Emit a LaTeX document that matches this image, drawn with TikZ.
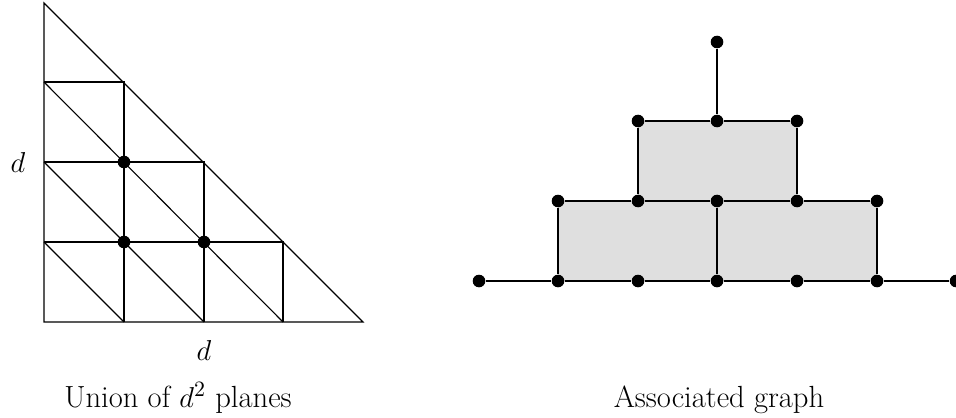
\documentclass[tikz,border=0pt]{standalone}
\begin{document}
\begin{tikzpicture}[x=0.5pt,y=-0.5pt,
  ln/.style={line width=0.55pt},
  dot/.style={circle,fill=black,inner sep=0pt,minimum size=6.3pt},
  lbl/.style={inner sep=0pt,font=\fontsize{15.3}{18}\selectfont}]
\useasboundingbox (0,0) rectangle (956,417);
% ---- left: triangle
\draw[ln] (44,3) -- (44,322) -- (363,322) -- cycle;
\draw[ln] (44,82) -- (124,82) -- (124,322);
\draw[ln] (44,162) -- (204,162) -- (204,322);
\draw[ln] (44,242) -- (283,242) -- (283,322);
\draw[ln] (44,82) -- (283,322);
\draw[ln] (44,162) -- (204,322);
\draw[ln] (44,242) -- (124,322);
\node[dot] (p1) at (124,162) {};
\node[dot] (p2) at (124,242) {};
\node[dot] (p3) at (204,242) {};
\node[lbl] (dl) at (18,162) {$d$};
\node[lbl] (db) at (204,350) {$d$};
\node[lbl,anchor=base] (cap1) at (178,407) {Union of $d^2$ planes};
% ---- right: graph
\fill[gray!25] (638,121) rectangle (797,201);
\fill[gray!25] (558,201) rectangle (877,281);
\node[dot] (t) at (717,42) {};
\node[dot] (a1) at (638,121) {};
\node[dot] (a2) at (717,121) {};
\node[dot] (a3) at (797,121) {};
\node[dot] (b1) at (558,201) {};
\node[dot] (b2) at (638,201) {};
\node[dot] (b3) at (717,201) {};
\node[dot] (b4) at (797,201) {};
\node[dot] (b5) at (877,201) {};
\node[dot] (c0) at (479,281) {};
\node[dot] (c1) at (558,281) {};
\node[dot] (c2) at (638,281) {};
\node[dot] (c3) at (717,281) {};
\node[dot] (c4) at (797,281) {};
\node[dot] (c5) at (877,281) {};
\node[dot] (c6) at (956,281) {};
\draw[ln] (t) -- (a2);
\draw[ln] (a1) -- (a2) -- (a3);
\draw[ln] (b1) -- (b2) -- (b3) -- (b4) -- (b5);
\draw[ln] (c0) -- (c1) -- (c2) -- (c3) -- (c4) -- (c5) -- (c6);
\draw[ln] (a1) -- (b2);
\draw[ln] (a3) -- (b4);
\draw[ln] (b1) -- (c1);
\draw[ln] (b3) -- (c3);
\draw[ln] (b5) -- (c5);
\node[lbl,anchor=base] (cap2) at (719,407) {Associated graph};
\end{tikzpicture}
\end{document}
